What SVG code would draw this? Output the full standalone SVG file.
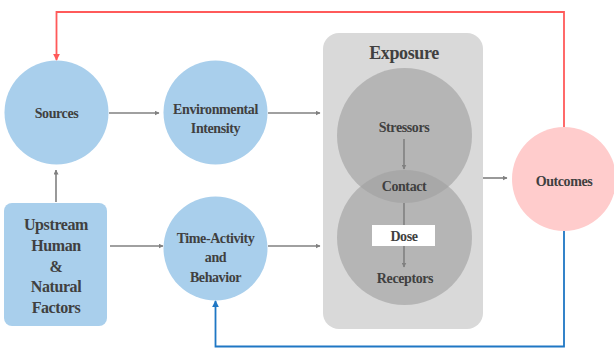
<svg xmlns="http://www.w3.org/2000/svg" width="614" height="348" viewBox="0 0 614 348" font-family="Liberation Serif, Times New Roman, serif">
<style>
.t{font-weight:bold;fill:#404040;text-anchor:middle;letter-spacing:-0.4px}
.c{font-size:14px}
.u{font-size:16px}
.blue{fill:#a9cfec}
.ln{fill:none;stroke:#808080;stroke-width:1.6}
</style>
<defs>
<marker id="ag" viewBox="0 0 10 10" refX="9" refY="5" markerWidth="5" markerHeight="5" orient="auto" markerUnits="userSpaceOnUse"><path d="M0,0 L10,5 L0,10 z" fill="#808080"/></marker>
<marker id="ar" viewBox="0 0 10 10" refX="9" refY="5" markerWidth="7" markerHeight="7" orient="auto" markerUnits="userSpaceOnUse"><path d="M0,0 L10,5 L0,10 z" fill="#ff5a5a"/></marker>
<marker id="ab" viewBox="0 0 10 10" refX="9" refY="5" markerWidth="7" markerHeight="7" orient="auto" markerUnits="userSpaceOnUse"><path d="M0,0 L10,5 L0,10 z" fill="#1f77c4"/></marker>
</defs>
<rect width="614" height="348" fill="#ffffff"/>
<g id="exposure">
<rect x="323" y="33" width="160" height="296" rx="16" fill="#d9d9d9"/>
<text class="t" x="404" y="59" font-size="18" font-family="Liberation Serif">Exposure</text>
<circle cx="404.5" cy="135.5" r="67.5" fill="#a1a1a1" fill-opacity="0.64"/>
<circle cx="404.5" cy="237.5" r="67.5" fill="#a1a1a1" fill-opacity="0.64"/>
<text class="t c" x="404" y="132" font-family="Liberation Serif">Stressors</text>
<text class="t c" x="404" y="191" font-family="Liberation Serif">Contact</text>
<text class="t c" x="405" y="283" font-family="Liberation Serif">Receptors</text>
</g>
<g id="sources">
<circle cx="56.5" cy="112.5" r="52" class="blue"/>
<text class="t c" x="56.5" y="118" font-family="Liberation Serif">Sources</text>
</g>
<g id="environmental">
<circle cx="215.5" cy="112.5" r="52" class="blue"/>
<text class="t c" x="215.5" y="114" font-family="Liberation Serif">Environmental</text>
<text class="t c" x="215.5" y="133" font-family="Liberation Serif">Intensity</text>
</g>
<g id="time-activity">
<circle cx="215.5" cy="248.5" r="52" class="blue"/>
<text class="t c" x="215.5" y="243" font-family="Liberation Serif">Time-Activity</text>
<text class="t c" x="215.5" y="262" font-family="Liberation Serif">and</text>
<text class="t c" x="215.5" y="282" font-family="Liberation Serif">Behavior</text>
</g>
<g id="upstream">
<rect x="4" y="203" width="103" height="123" rx="8" class="blue"/>
<text class="t u" x="56" y="230" font-family="Liberation Serif">Upstream</text>
<text class="t u" x="56" y="251" font-family="Liberation Serif">Human</text>
<text class="t u" x="56" y="272" font-family="Liberation Serif">&amp;</text>
<text class="t u" x="56" y="292" font-family="Liberation Serif">Natural</text>
<text class="t u" x="56" y="313" font-family="Liberation Serif">Factors</text>
</g>
<g id="outcomes">
<circle cx="564" cy="179" r="52" fill="#ffcccc"/>
<text class="t c" x="564" y="186" font-family="Liberation Serif">Outcomes</text>
</g>
<g id="connectors">
<line class="ln" x1="109" y1="113" x2="159" y2="113" marker-end="url(#ag)"/>
<line class="ln" x1="268" y1="113" x2="320" y2="113" marker-end="url(#ag)"/>
<line class="ln" x1="110" y1="246" x2="163" y2="246" marker-end="url(#ag)"/>
<line class="ln" x1="268" y1="246" x2="320" y2="246" marker-end="url(#ag)"/>
<line class="ln" x1="56" y1="202" x2="56" y2="170" marker-end="url(#ag)"/>
<line class="ln" x1="483" y1="178" x2="507" y2="178" marker-end="url(#ag)"/>
<line class="ln" x1="404" y1="139" x2="404" y2="169" marker-end="url(#ag)"/>
<line class="ln" x1="404" y1="203" x2="404" y2="226"/>
<line class="ln" x1="404" y1="246" x2="404" y2="267" marker-end="url(#ag)"/>
<polyline points="564,127 564,12 56.5,12 56.5,60" fill="none" stroke="#ff5a5a" stroke-width="1.8" marker-end="url(#ar)"/>
<polyline points="564,231 564,346.5 215.5,346.5 215.5,301" fill="none" stroke="#1f77c4" stroke-width="1.8" marker-end="url(#ab)"/>
</g>
<g id="dose">
<rect x="372" y="225" width="63" height="21" fill="#ffffff"/>
<text class="t c" x="404" y="241" font-family="Liberation Serif">Dose</text>
</g>
</svg>
